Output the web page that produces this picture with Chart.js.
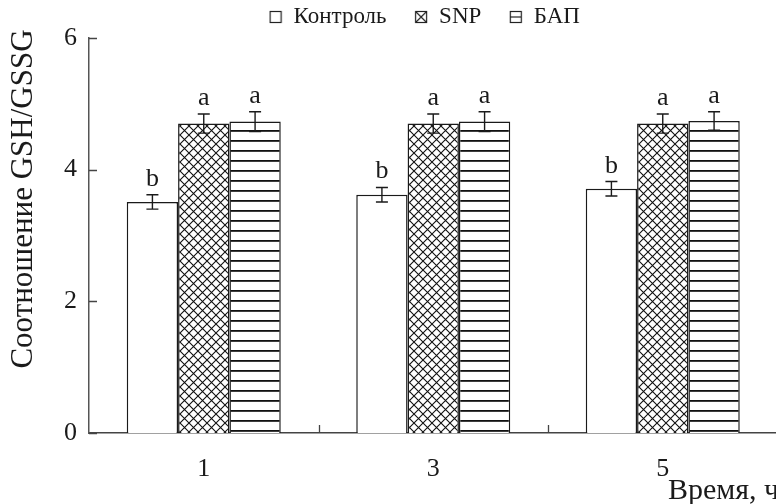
<!DOCTYPE html>
<html><head><meta charset="utf-8">
<script src="https://cdn.jsdelivr.net/npm/chart.js@4/dist/chart.umd.min.js"></script>
<style>
html,body{margin:0;padding:0;background:#fff;overflow:hidden;}
#wrap{width:849px;height:504px;position:relative;}
</style></head><body>
<div id="wrap"><canvas id="c"></canvas></div>
<script>
const categories = ['1', '3', '5'];
const seriesNames = ['Контроль', 'SNP', 'БАП'];
const controlValues = [3.51, 3.62, 3.71];
const snpValues = [4.70, 4.70, 4.70];
const bapValues = [4.73, 4.73, 4.74];
const controlErrors = [0.11, 0.11, 0.11];
const snpErrors = [0.145, 0.145, 0.145];
const bapErrors = [0.15, 0.15, 0.14];
const controlLetters = ['b', 'b', 'b'];
const snpLetters = ['a', 'a', 'a'];
const bapLetters = ['a', 'a', 'a'];
const yTickValues = [0, 2, 4, 6];
const yTitle = 'Соотношение GSH/GSSG';
const xTitle = 'Время, ч';

const FONT = 'Liberation Serif';
const INK = '#1a1a1a';

function makeCross() {
  const s = 9, c = document.createElement('canvas');
  c.width = s; c.height = s;
  const g = c.getContext('2d');
  g.fillStyle = '#fff'; g.fillRect(0, 0, s, s);
  g.strokeStyle = '#111'; g.lineWidth = 1.1;
  g.beginPath(); g.moveTo(0, 0); g.lineTo(s, s); g.moveTo(s, 0); g.lineTo(0, s); g.stroke();
  return g.createPattern(c, 'repeat');
}
function makeHoriz() {
  const s = 10, c = document.createElement('canvas');
  c.width = 4; c.height = s;
  const g = c.getContext('2d');
  g.fillStyle = '#fff'; g.fillRect(0, 0, 4, s);
  g.fillStyle = '#111'; g.fillRect(0, 0, 4, 1.8);
  return g.createPattern(c, 'repeat');
}
function makeIcon(kind) {
  const s = 14, c = document.createElement('canvas');
  c.width = s; c.height = s;
  const g = c.getContext('2d');
  g.fillStyle = '#fff'; g.fillRect(1, 1, 12, 12);
  g.strokeStyle = '#222'; g.lineWidth = 1.2;
  g.strokeRect(1.5, 1.5, 11, 11);
  g.beginPath();
  if (kind === 1) { g.moveTo(1.5, 1.5); g.lineTo(12.5, 12.5); g.moveTo(12.5, 1.5); g.lineTo(1.5, 12.5); }
  if (kind === 2) { g.moveTo(1.5, 7); g.lineTo(12.5, 7); }
  g.stroke();
  return c;
}
const icons = [makeIcon(0), makeIcon(1), makeIcon(2)];

const errorSets = [controlErrors, snpErrors, bapErrors];
const letterSets = [controlLetters, snpLetters, bapLetters];

const LEGEND_H = 38, LEGEND_PAD = 28, LEGEND_FONT = 23;

const legendPlacer = {
  id: 'legendPlacer',
  beforeLayout(chart) {
    const lg = chart.legend;
    if (lg && !lg._patched) {
      const f = lg.fit;
      lg.fit = function () { f.call(this); this.height = LEGEND_H; };
      lg._patched = true;
    }
  },
  afterLayout(chart) {
    const lg = chart.legend;
    if (!lg) return;
    // centre legend over the full canvas, items centred near y = 17
    lg.left = 0; lg.right = chart.width;
    lg.top = 17 - LEGEND_PAD - LEGEND_FONT / 2;
  }
};

const overlay = {
  id: 'overlay',
  afterDatasetsDraw(chart) {
    const ctx = chart.ctx, y = chart.scales.y, x = chart.scales.x, a = chart.chartArea;
    ctx.save();
    chart.data.datasets.forEach((ds, di) => {
      const meta = chart.getDatasetMeta(di);
      meta.data.forEach((bar, i) => {
        const v = ds.data[i], e = errorSets[di][i];
        const top = y.getPixelForValue(v + e), bot = y.getPixelForValue(v - e);
        ctx.strokeStyle = INK; ctx.lineWidth = 1.4;
        ctx.beginPath();
        ctx.moveTo(bar.x, top); ctx.lineTo(bar.x, bot);
        ctx.moveTo(bar.x - 6, top); ctx.lineTo(bar.x + 6, top);
        ctx.moveTo(bar.x - 6, bot); ctx.lineTo(bar.x + 6, bot);
        ctx.stroke();
        ctx.fillStyle = INK;
        ctx.font = '26px "' + FONT + '"';
        ctx.textAlign = 'center'; ctx.textBaseline = 'alphabetic';
        ctx.fillText(letterSets[di][i], bar.x, top - 9);
      });
    });
    ctx.strokeStyle = '#444'; ctx.lineWidth = 1.3;
    ctx.beginPath();
    yTickValues.forEach(t => {
      const py = Math.round(y.getPixelForValue(t)) + 0.5;
      ctx.moveTo(a.left, py); ctx.lineTo(a.left + 8, py);
    });
    for (let k = 1; k < categories.length; k++) {
      const px = Math.round((x.getPixelForValue(k - 1) + x.getPixelForValue(k)) / 2) + 0.5;
      ctx.moveTo(px, a.bottom); ctx.lineTo(px, a.bottom - 8);
    }
    ctx.stroke();
    ctx.fillStyle = INK;
    ctx.font = '31px "' + FONT + '"';
    ctx.save();
    ctx.translate(24, 199);
    ctx.rotate(-Math.PI / 2);
    ctx.textAlign = 'center'; ctx.textBaseline = 'middle';
    ctx.fillText(yTitle, 0, 0);
    ctx.restore();
    ctx.font = '30px "' + FONT + '"';
    ctx.textAlign = 'left'; ctx.textBaseline = 'middle';
    ctx.fillText(xTitle, 668, 491);
    ctx.restore();
  }
};

new Chart(document.getElementById('c'), {
  type: 'bar',
  data: {
    labels: categories,
    datasets: [
      { label: seriesNames[0], data: controlValues, backgroundColor: '#fff', borderColor: INK, borderWidth: 1.5 },
      { label: seriesNames[1], data: snpValues, backgroundColor: makeCross(), borderColor: INK, borderWidth: 1.5 },
      { label: seriesNames[2], data: bapValues, backgroundColor: makeHoriz(), borderColor: INK, borderWidth: 1.5 }
    ]
  },
  options: {
    responsive: true,
    maintainAspectRatio: false,
    animation: false,
    devicePixelRatio: 1,
    layout: { padding: { left: 0, right: 71.5, top: 0, bottom: 0 } },
    datasets: { bar: { categoryPercentage: 0.671, barPercentage: 1.0 } },
    plugins: {
      tooltip: { enabled: false },
      legend: {
        position: 'top',
        labels: {
          usePointStyle: true,
          boxWidth: 13,
          padding: LEGEND_PAD,
          color: INK,
          font: { family: FONT, size: LEGEND_FONT },
          generateLabels: () => seriesNames.map((n, i) => ({
            text: n, pointStyle: icons[i], fillStyle: '#fff', strokeStyle: '#000',
            lineWidth: 0, datasetIndex: i, hidden: false, fontColor: INK
          }))
        }
      }
    },
    scales: {
      x: {
        grid: { display: false, drawTicks: false },
        border: { display: true, color: '#444', width: 1.5 },
        ticks: { color: INK, font: { family: FONT, size: 26 }, padding: 21 },
        afterFit: s => { s.height = 71; }
      },
      y: {
        min: 0, max: 6,
        afterBuildTicks: s => { s.ticks = yTickValues.map(v => ({ value: v })); },
        grid: { display: false, drawTicks: false },
        border: { display: true, color: '#555', width: 1.5 },
        ticks: { color: INK, font: { family: FONT, size: 26 }, padding: 12 },
        afterFit: s => { s.width = 89; }
      }
    }
  },
  plugins: [legendPlacer, overlay]
});
</script>
</body></html>
